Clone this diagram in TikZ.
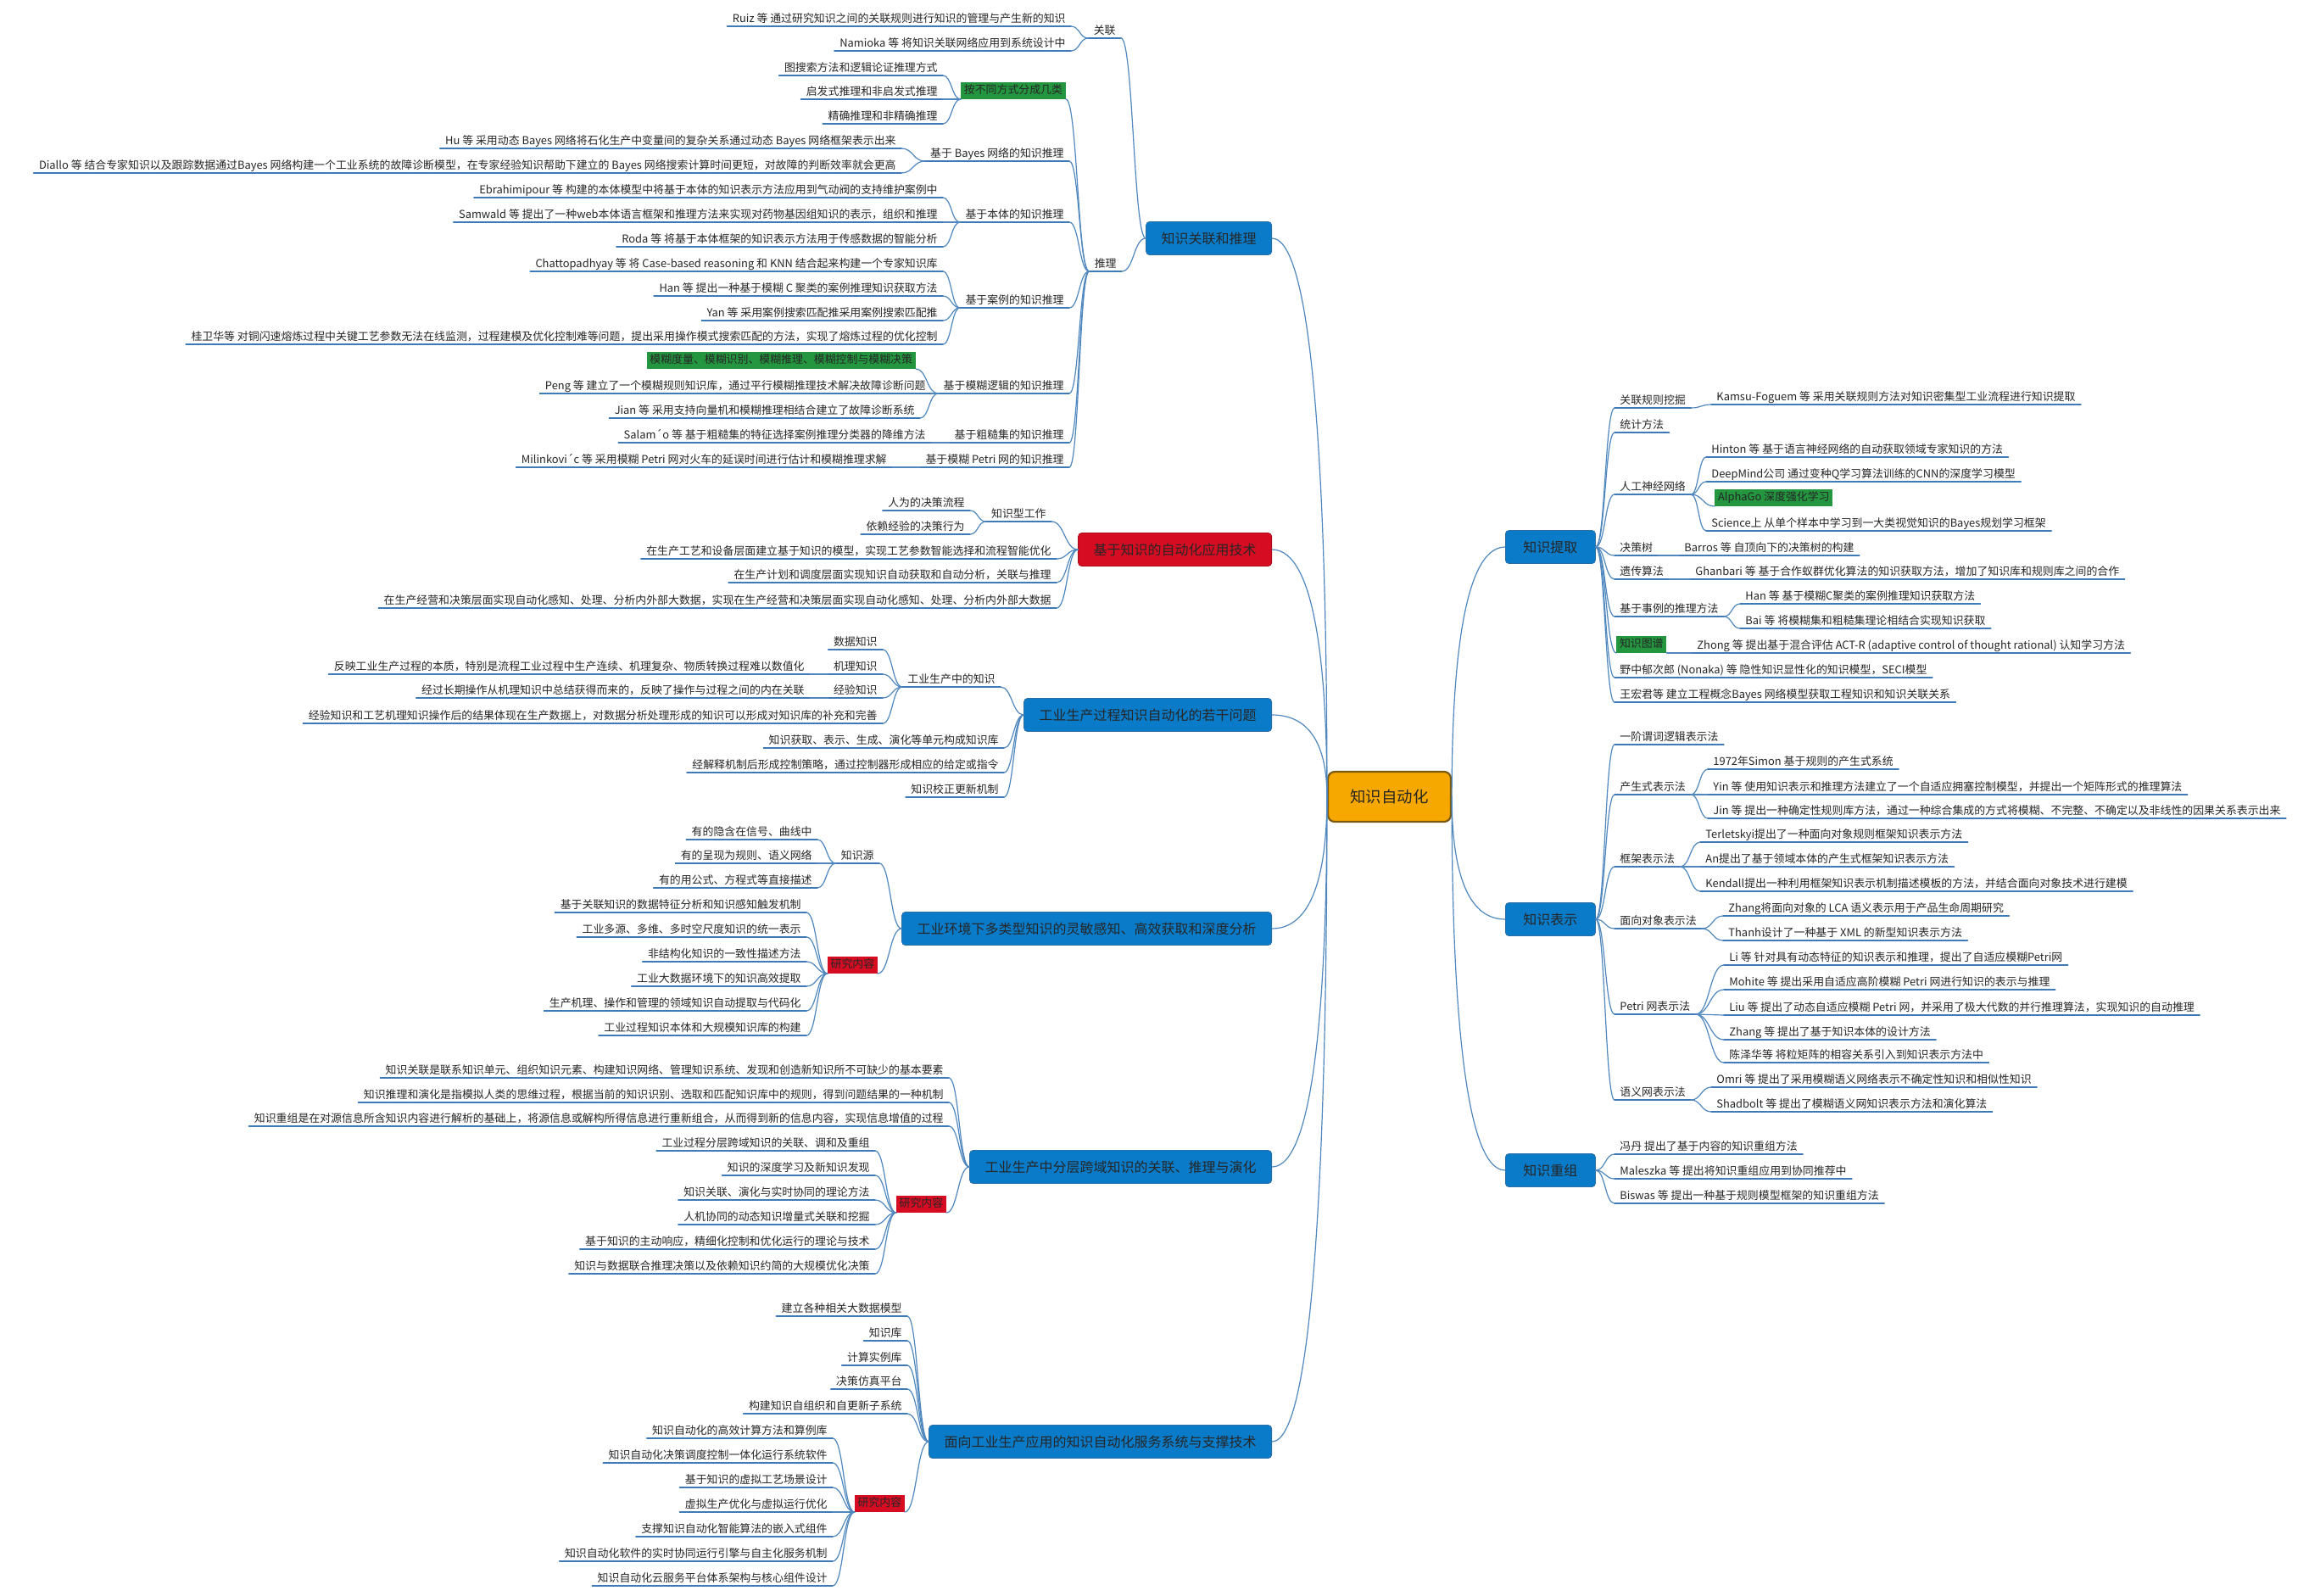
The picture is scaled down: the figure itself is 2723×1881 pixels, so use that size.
\documentclass[tikz,border=0pt]{standalone}
\usepackage{fontspec}
\setmainfont{Noto Sans CJK SC}
\usetikzlibrary{calc}
\definecolor{lc}{HTML}{4F87BE}
\definecolor{ulc}{HTML}{3E7AB5}
\definecolor{mb}{HTML}{0A7BC9}
\definecolor{mbd}{HTML}{2A6EA6}
\definecolor{rb}{HTML}{D60C22}
\definecolor{gb}{HTML}{23963F}
\definecolor{ob}{HTML}{F6A800}
\definecolor{obd}{HTML}{7A5A10}
\definecolor{tx}{HTML}{262626}
\tikzset{
 lf/.style={font=\fontsize{6.45pt}{7pt}\selectfont, text=tx, inner xsep=3pt, inner ysep=0.8pt, text height=5.2pt, text depth=1.3pt},
 gbox/.style={lf, fill=gb, inner xsep=1.8pt, inner ysep=1.6pt},
 rbox/.style={lf, fill=rb, inner xsep=1.7pt, inner ysep=1.6pt},
 mbox/.style={font=\fontsize{8pt}{9pt}\selectfont, text=tx, fill=mb, draw=mbd, line width=0.4pt, rounded corners=2pt, inner xsep=9pt, minimum height=19.5pt},
 rootbox/.style={font=\fontsize{9.2pt}{10pt}\selectfont, text=tx, fill=ob, draw=obd, line width=1.1pt, rounded corners=4pt, minimum width=72.5pt, minimum height=29.5pt},
 cn/.style={draw=lc, line width=0.6pt, line cap=round},
 ul/.style={draw=ulc, line width=0.7pt, line cap=round},
 curv/.style={to path={let \p1=(\tikztostart),\p2=(\tikztotarget) in .. controls ({0.5*\x1+0.5*\x2},\y1) and ({0.5*\x1+0.5*\x2},\y2) .. (\tikztotarget)}},
 mcurv/.style={to path={let \p1=(\tikztostart),\p2=(\tikztotarget) in .. controls ({\x1+0.8*(\x2-\x1)},\y1) and (\x2,{0.5*\y1+0.5*\y2}) .. (\tikztotarget)}}
}
\newcommand\lleaf[4]{\node[lf,anchor=south east] (#1) at (#2,#3) {#4}; \draw[ul] (#1.south west) -- (#1.south east);}
\newcommand\rleaf[4]{\node[lf,anchor=south west] (#1) at (#2,#3) {#4}; \draw[ul] (#1.south west) -- (#1.south east);}
\newcommand\con[2]{\draw[cn] (#1.south east) to[curv] (#2.south west);}
\newcommand\conL[2]{\draw[cn] (#1.south east) to[curv] (#2.west);}
\newcommand\conR[2]{\draw[cn] (#1.east) to[curv] (#2.south west);}
\begin{document}
\begin{tikzpicture}[x=0.5pt,y=-0.5pt]
\fill[white] (0,0) rectangle (2723,1881);
\useasboundingbox (0,0) rectangle (2723,1881);

% root and main branches
\node[rootbox] (root) at (1638.5,939.5) {知识自动化};
\node[mbox,anchor=east] (L1) at (1500,281) {知识关联和推理};
\node[mbox,anchor=east,fill=rb,draw=rb!80!black] (L2) at (1500,648) {基于知识的自动化应用技术};
\node[mbox,anchor=east] (L3) at (1500,843) {工业生产过程知识自动化的若干问题};
\node[mbox,anchor=east] (L4) at (1500,1095) {工业环境下多类型知识的灵敏感知、高效获取和深度分析};
\node[mbox,anchor=east] (L5) at (1500,1376) {工业生产中分层跨域知识的关联、推理与演化};
\node[mbox,anchor=east] (L6) at (1500,1700) {面向工业生产应用的知识自动化服务系统与支撑技术};
\node[mbox,anchor=west,minimum width=53pt] (R1) at (1775,645) {知识提取};
\node[mbox,anchor=west,minimum width=53pt] (R2) at (1775,1084) {知识表示};
\node[mbox,anchor=west,minimum width=53pt] (R3) at (1775,1380) {知识重组};
\foreach \m in {L1,L2,L3,L4,L5,L6} {\draw[cn] (\m.east) to[mcurv] (root.west);}
\foreach \m in {R1,R2,R3} {\draw[cn] (\m.west) to[mcurv] (root.east);}

% ---------- L1 ----------
\lleaf{gl}{1322}{45}{关联}
\lleaf{tl}{1323}{320}{推理}
\lleaf{ruiz}{1263}{31}{Ruiz 等 通过研究知识之间的关联规则进行知识的管理与产生新的知识}
\lleaf{nam}{1263}{60}{Namioka 等 将知识关联网络应用到系统设计中}
\node[gbox,anchor=south east] (fl) at (1257,117) {按不同方式分成几类};
\lleaf{fla}{1112}{89}{图搜索方法和逻辑论证推理方式}
\lleaf{flb}{1112}{117}{启发式推理和非启发式推理}
\lleaf{flc}{1112}{146}{精确推理和非精确推理}
\lleaf{by}{1261}{190}{基于 Bayes 网络的知识推理}
\lleaf{hu}{1063}{175}{Hu 等 采用动态 Bayes 网络将石化生产中变量间的复杂关系通过动态 Bayes 网络框架表示出来}
\lleaf{dia}{1063}{204}{Diallo 等 结合专家知识以及跟踪数据通过Bayes 网络构建一个工业系统的故障诊断模型，在专家经验知识帮助下建立的 Bayes 网络搜索计算时间更短，对故障的判断效率就会更高}
\lleaf{bt}{1261}{262}{基于本体的知识推理}
\lleaf{ebr}{1112}{233}{Ebrahimipour 等 构建的本体模型中将基于本体的知识表示方法应用到气动阀的支持维护案例中}
\lleaf{sam}{1112}{262}{Samwald 等 提出了一种web本体语言框架和推理方法来实现对药物基因组知识的表示，组织和推理}
\lleaf{roda}{1112}{291}{Roda 等 将基于本体框架的知识表示方法用于传感数据的智能分析}
\lleaf{al}{1261}{363}{基于案例的知识推理}
\lleaf{cha}{1112}{320}{Chattopadhyay 等 将 Case-based reasoning 和 KNN 结合起来构建一个专家知识库}
\lleaf{han}{1112}{349}{Han 等 提出一种基于模糊 C 聚类的案例推理知识获取方法}
\lleaf{yan}{1112}{378}{Yan 等 采用案例搜索匹配推采用案例搜索匹配推}
\lleaf{gui}{1112}{406}{桂卫华等 对铜闪速熔炼过程中关键工艺参数无法在线监测，过程建模及优化控制难等问题，提出采用操作模式搜索匹配的方法，实现了熔炼过程的优化控制}
\lleaf{mh}{1261}{464}{基于模糊逻辑的知识推理}
\node[gbox,anchor=south east] (mhg) at (1080,435) {模糊度量、模糊识别、模糊推理、模糊控制与模糊决策};
\lleaf{peng}{1098}{464}{Peng 等 建立了一个模糊规则知识库，通过平行模糊推理技术解决故障诊断问题}
\lleaf{jian}{1085}{493}{Jian 等 采用支持向量机和模糊推理相结合建立了故障诊断系统}
\lleaf{cc}{1261}{522}{基于粗糙集的知识推理}
\lleaf{sal}{1098}{522}{Salam´o 等 基于粗糙集的特征选择案例推理分类器的降维方法}
\lleaf{pt}{1261}{551}{基于模糊 Petri 网的知识推理}
\lleaf{mil}{1052}{551}{Milinkovi´c 等 采用模糊 Petri 网对火车的延误时间进行估计和模糊推理求解}
\foreach \c in {gl,tl} {\conL{\c}{L1}}
\foreach \c in {ruiz,nam} {\con{\c}{gl}}
\foreach \c in {fl,by,bt,al,mh,cc,pt} {\con{\c}{tl}}
\foreach \c in {fla,flb,flc} {\con{\c}{fl}}
\foreach \c in {hu,dia} {\con{\c}{by}}
\foreach \c in {ebr,sam,roda} {\con{\c}{bt}}
\foreach \c in {cha,han,yan,gui} {\con{\c}{al}}
\foreach \c in {mhg,peng,jian} {\con{\c}{mh}}
\con{sal}{cc}
\con{mil}{pt}

% ---------- L2 ----------
\lleaf{zsx}{1240}{615}{知识型工作}
\lleaf{rwa}{1144}{602}{人为的决策流程}
\lleaf{rwb}{1144}{630}{依赖经验的决策行为}
\lleaf{aa}{1246}{659}{在生产工艺和设备层面建立基于知识的模型，实现工艺参数智能选择和流程智能优化}
\lleaf{ab}{1246}{687}{在生产计划和调度层面实现知识自动获取和自动分析，关联与推理}
\lleaf{ac}{1246}{717}{在生产经营和决策层面实现自动化感知、处理、分析内外部大数据，实现在生产经营和决策层面实现自动化感知、处理、分析内外部大数据}
\foreach \c in {zsx,aa,ab,ac} {\conL{\c}{L2}}
\foreach \c in {rwa,rwb} {\con{\c}{zsx}}

% ---------- L3 ----------
\lleaf{gy}{1180}{810}{工业生产中的知识}
\lleaf{sj}{1041}{766}{数据知识}
\lleaf{jl}{1041}{795}{机理知识}
\lleaf{jla}{955}{795}{反映工业生产过程的本质，特别是流程工业过程中生产连续、机理复杂、物质转换过程难以数值化}
\lleaf{jy}{1041}{823}{经验知识}
\lleaf{jya}{955}{823}{经过长期操作从机理知识中总结获得而来的，反映了操作与过程之间的内在关联}
\lleaf{jyg}{1041}{853}{经验知识和工艺机理知识操作后的结果体现在生产数据上，对数据分析处理形成的知识可以形成对知识库的补充和完善}
\lleaf{bb}{1184}{882}{知识获取、表示、生成、演化等单元构成知识库}
\lleaf{bc}{1184}{911}{经解释机制后形成控制策略，通过控制器形成相应的给定或指令}
\lleaf{bd}{1184}{940}{知识校正更新机制}
\foreach \c in {gy,bb,bc,bd} {\conL{\c}{L3}}
\foreach \c in {sj,jl,jy,jyg} {\con{\c}{gy}}
\con{jla}{jl}
\con{jya}{jy}

% ---------- L4 ----------
\lleaf{zsy}{1037}{1018}{知识源}
\lleaf{ca}{964}{990}{有的隐含在信号、曲线中}
\lleaf{cb}{964}{1018}{有的呈现为规则、语义网络}
\lleaf{cd}{964}{1047}{有的用公式、方程式等直接描述}
\node[rbox,anchor=south east] (yja) at (1035,1148) {研究内容};
\lleaf{da}{951}{1076}{基于关联知识的数据特征分析和知识感知触发机制}
\lleaf{db}{951}{1105}{工业多源、多维、多时空尺度知识的统一表示}
\lleaf{dc}{951}{1134}{非结构化知识的一致性描述方法}
\lleaf{dd}{951}{1163}{工业大数据环境下的知识高效提取}
\lleaf{de}{951}{1192}{生产机理、操作和管理的领域知识自动提取与代码化}
\lleaf{df}{951}{1221}{工业过程知识本体和大规模知识库的构建}
\foreach \c in {zsy,yja} {\conL{\c}{L4}}
\foreach \c in {ca,cb,cd} {\con{\c}{zsy}}
\foreach \c in {da,db,dc,dd,de,df} {\con{\c}{yja}}

% ---------- L5 ----------
\lleaf{ea}{1119}{1271}{知识关联是联系知识单元、组织知识元素、构建知识网络、管理知识系统、发现和创造新知识所不可缺少的基本要素}
\lleaf{eb}{1119}{1300}{知识推理和演化是指模拟人类的思维过程，根据当前的知识识别、选取和匹配知识库中的规则，得到问题结果的一种机制}
\lleaf{ec}{1119}{1328}{知识重组是在对源信息所含知识内容进行解析的基础上，将源信息或解构所得信息进行重新组合，从而得到新的信息内容，实现信息增值的过程}
\node[rbox,anchor=south east] (yjb) at (1116,1430) {研究内容};
\lleaf{fa}{1032}{1357}{工业过程分层跨域知识的关联、调和及重组}
\lleaf{fb}{1032}{1386}{知识的深度学习及新知识发现}
\lleaf{fc}{1032}{1415}{知识关联、演化与实时协同的理论方法}
\lleaf{fd}{1032}{1444}{人机协同的动态知识增量式关联和挖掘}
\lleaf{fe}{1032}{1473}{基于知识的主动响应，精细化控制和优化运行的理论与技术}
\lleaf{ff}{1032}{1502}{知识与数据联合推理决策以及依赖知识约简的大规模优化决策}
\foreach \c in {ea,eb,ec,yjb} {\conL{\c}{L5}}
\foreach \c in {fa,fb,fc,fd,fe,ff} {\con{\c}{yjb}}

% ---------- L6 ----------
\lleaf{ga}{1070}{1552}{建立各种相关大数据模型}
\lleaf{gb}{1070}{1581}{知识库}
\lleaf{gc}{1070}{1610}{计算实例库}
\lleaf{gd}{1070}{1638}{决策仿真平台}
\lleaf{ge}{1070}{1667}{构建知识自组织和自更新子系统}
\node[rbox,anchor=south east] (yjc) at (1067,1783) {研究内容};
\lleaf{ha}{982}{1696}{知识自动化的高效计算方法和算例库}
\lleaf{hb}{982}{1725}{知识自动化决策调度控制一体化运行系统软件}
\lleaf{hc}{982}{1754}{基于知识的虚拟工艺场景设计}
\lleaf{hd}{982}{1783}{虚拟生产优化与虚拟运行优化}
\lleaf{he}{982}{1812}{支撑知识自动化智能算法的嵌入式组件}
\lleaf{hf}{982}{1841}{知识自动化软件的实时协同运行引擎与自主化服务机制}
\lleaf{hg}{982}{1870}{知识自动化云服务平台体系架构与核心组件设计}
\foreach \c in {ga,gb,gc,gd,ge,yjc} {\conL{\c}{L6}}
\foreach \c in {ha,hb,hc,hd,he,hf,hg} {\con{\c}{yjc}}

% ---------- R1 ----------
\rleaf{ra}{1904}{481}{关联规则挖掘}
\rleaf{raa}{2018}{477}{Kamsu-Foguem 等 采用关联规则方法对知识密集型工业流程进行知识提取}
\rleaf{rb}{1904}{510}{统计方法}
\rleaf{rc}{1904}{583}{人工神经网络}
\rleaf{rca}{2012}{539}{Hinton 等 基于语言神经网络的自动获取领域专家知识的方法}
\rleaf{rcb}{2012}{568}{DeepMind公司 通过变种Q学习算法训练的CNN的深度学习模型}
\node[gbox,anchor=south west] (rcc) at (2022,597) {AlphaGo 深度强化学习};
\rleaf{rcd}{2012}{626}{Science上 从单个样本中学习到一大类视觉知识的Bayes规划学习框架}
\rleaf{rd}{1904}{655}{决策树}
\rleaf{rda}{1980}{655}{Barros 等 自顶向下的决策树的构建}
\rleaf{re}{1904}{683}{遗传算法}
\rleaf{rea}{1993}{683}{Ghanbari 等 基于合作蚁群优化算法的知识获取方法，增加了知识库和规则库之间的合作}
\rleaf{rf}{1904}{727}{基于事例的推理方法}
\rleaf{rfa}{2052}{712}{Han 等 基于模糊C聚类的案例推理知识获取方法}
\rleaf{rfb}{2052}{741}{Bai 等 将模糊集和粗糙集理论相结合实现知识获取}
\node[gbox,anchor=south west] (rg) at (1906,770) {知识图谱};
\rleaf{rga}{1995}{770}{Zhong 等 提出基于混合评估 ACT-R (adaptive control of thought rational) 认知学习方法}
\rleaf{rh}{1904}{799}{野中郁次郎 (Nonaka) 等 隐性知识显性化的知识模型，SECI模型}
\rleaf{ri}{1904}{828}{王宏君等 建立工程概念Bayes 网络模型获取工程知识和知识关联关系}
\foreach \c in {ra,rb,rc,rd,re,rf,rg,rh,ri} {\conR{R1}{\c}}
\con{ra}{raa}
\foreach \c in {rca,rcb,rcc,rcd} {\con{rc}{\c}}
\con{rd}{rda}
\con{re}{rea}
\foreach \c in {rfa,rfb} {\con{rf}{\c}}
\con{rg}{rga}

% ---------- R2 ----------
\rleaf{sa}{1904}{878}{一阶谓词逻辑表示法}
\rleaf{sb}{1904}{937}{产生式表示法}
\rleaf{sba}{2014}{907}{1972年Simon 基于规则的产生式系统}
\rleaf{sbb}{2014}{937}{Yin 等 使用知识表示和推理方法建立了一个自适应拥塞控制模型，并提出一个矩阵形式的推理算法}
\rleaf{sbc}{2014}{965}{Jin 等 提出一种确定性规则库方法，通过一种综合集成的方式将模糊、不完整、不确定以及非线性的因果关系表示出来}
\rleaf{sc}{1904}{1022}{框架表示法}
\rleaf{sca}{2005}{993}{Terletskyi提出了一种面向对象规则框架知识表示方法}
\rleaf{scb}{2005}{1022}{An提出了基于领域本体的产生式框架知识表示方法}
\rleaf{scc}{2005}{1051}{Kendall提出一种利用框架知识表示机制描述模板的方法，并结合面向对象技术进行建模}
\rleaf{sd}{1904}{1095}{面向对象表示法}
\rleaf{sda}{2032}{1080}{Zhang将面向对象的 LCA 语义表示用于产品生命周期研究}
\rleaf{sdb}{2032}{1109}{Thanh设计了一种基于 XML 的新型知识表示方法}
\rleaf{se}{1904}{1196}{Petri 网表示法}
\rleaf{sea}{2033}{1138}{Li 等 针对具有动态特征的知识表示和推理，提出了自适应模糊Petri网}
\rleaf{seb}{2033}{1167}{Mohite 等 提出采用自适应高阶模糊 Petri 网进行知识的表示与推理}
\rleaf{sec}{2033}{1197}{Liu 等 提出了动态自适应模糊 Petri 网，并采用了极大代数的并行推理算法，实现知识的自动推理}
\rleaf{sed}{2033}{1226}{Zhang 等 提出了基于知识本体的设计方法}
\rleaf{see}{2033}{1253}{陈泽华等 将粒矩阵的相容关系引入到知识表示方法中}
\rleaf{sf}{1904}{1297}{语义网表示法}
\rleaf{sfa}{2018}{1282}{Omri 等 提出了采用模糊语义网络表示不确定性知识和相似性知识}
\rleaf{sfb}{2018}{1311}{Shadbolt 等 提出了模糊语义网知识表示方法和演化算法}
\foreach \c in {sa,sb,sc,sd,se,sf} {\conR{R2}{\c}}
\foreach \c in {sba,sbb,sbc} {\con{sb}{\c}}
\foreach \c in {sca,scb,scc} {\con{sc}{\c}}
\foreach \c in {sda,sdb} {\con{sd}{\c}}
\foreach \c in {sea,seb,sec,sed,see} {\con{se}{\c}}
\foreach \c in {sfa,sfb} {\con{sf}{\c}}

% ---------- R3 ----------
\rleaf{ta}{1904}{1361}{冯丹 提出了基于内容的知识重组方法}
\rleaf{tb}{1904}{1390}{Maleszka 等 提出将知识重组应用到协同推荐中}
\rleaf{tc}{1904}{1419}{Biswas 等 提出一种基于规则模型框架的知识重组方法}
\foreach \c in {ta,tb,tc} {\conR{R3}{\c}}
\end{tikzpicture}
\end{document}
